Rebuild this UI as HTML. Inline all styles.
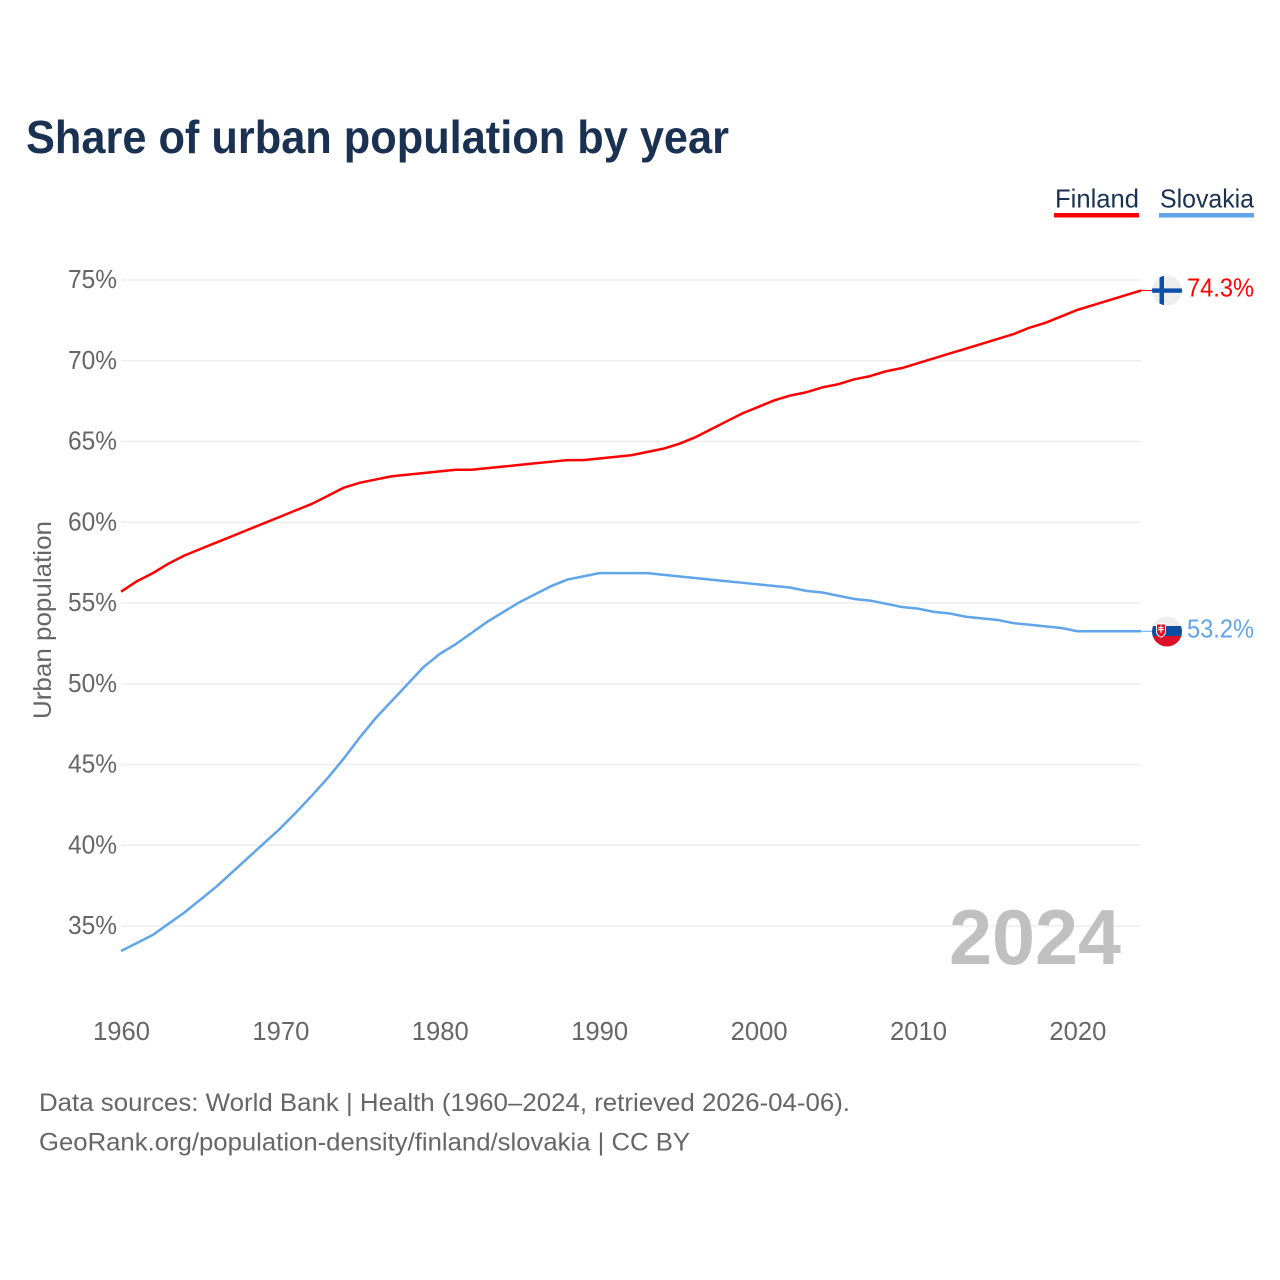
<!DOCTYPE html>
<html lang="en">
<head>
<meta charset="utf-8">
<title>Share of urban population by year</title>
<style>
html,body{margin:0;padding:0;background:#fff;width:1280px;height:1280px;overflow:hidden}
svg{display:block}
text{font-family:"Liberation Sans",sans-serif}
</style>
</head>
<body>
<svg id="chart" xmlns="http://www.w3.org/2000/svg" width="1280" height="1280" viewBox="0 0 1280 1280">
  <text x="26" y="153" font-size="46" font-weight="700" fill="#1a3152" textLength="703" lengthAdjust="spacingAndGlyphs">Share of urban population by year</text>

  <g>
    <text x="1055" y="207.500" font-size="26" fill="#1a3152" textLength="84" lengthAdjust="spacingAndGlyphs">Finland</text>
    <rect x="1054" y="213" width="85" height="4.5" fill="#ff0000"/>
  </g>
  <g>
    <text x="1160" y="207.500" font-size="26" fill="#1a3152" textLength="94" lengthAdjust="spacingAndGlyphs">Slovakia</text>
    <rect x="1159" y="213" width="95" height="4.5" fill="#60a5ea"/>
  </g>

  <g id="grid"></g>
  <g id="yTicks"></g>
  <g id="xTicks"></g>
  <text transform="translate(51,620) rotate(-90)" text-anchor="middle" font-size="25" fill="#666666" textLength="198" lengthAdjust="spacingAndGlyphs">Urban population</text>

  <text x="949" y="964" font-size="78" font-weight="700" fill="#c0c0c0" textLength="172" lengthAdjust="spacingAndGlyphs">2024</text>

  <g id="series"></g>

  <g id="flagFinland">
    <clipPath id="clipFi"><circle cx="1167" cy="290.5" r="15"/></clipPath>
    <g clip-path="url(#clipFi)">
      <rect x="1152" y="275" width="30" height="31" fill="#eeeeee"/>
      <rect x="1159.5" y="275" width="4.5" height="31" fill="#0a4fa8"/>
      <rect x="1152" y="288.4" width="30" height="4.4" fill="#0a4fa8"/>
    </g>
  </g>
  <g id="flagSlovakia">
    <clipPath id="clipSk"><circle cx="1167" cy="631.5" r="15"/></clipPath>
    <g clip-path="url(#clipSk)">
      <rect x="1152" y="616" width="30" height="10.5" fill="#eeeeee"/>
      <rect x="1152" y="626" width="30" height="10.5" fill="#0b4ea2"/>
      <rect x="1152" y="636" width="30" height="11" fill="#dc1128"/>
    </g>
    <path d="M1156.5 624h9v7.5c0 3-2 4.700-4.500 5.800c-2.500-1.100-4.500-2.800-4.500-5.800z" fill="#dc1128" stroke="#ffffff" stroke-width="1"/>
    <path d="M1160.400 625.500h1.200v1.500h1.900v1.100h-1.900v1h2.300v1.100h-2.300v2.500h-1.200v-2.500h-2.300v-1.100h2.300v-1h-1.900v-1.100h1.900z" fill="#ffffff"/>
  </g>

  <text x="1187" y="296.500" font-size="26" fill="#ff0000" textLength="67" lengthAdjust="spacingAndGlyphs">74.3%</text>
  <text x="1187" y="637.500" font-size="26" fill="#60a5ea" textLength="67" lengthAdjust="spacingAndGlyphs">53.2%</text>

  <text x="39" y="1111" font-size="25" fill="#666666" textLength="811" lengthAdjust="spacingAndGlyphs">Data sources: World Bank | Health (1960–2024, retrieved 2026-04-06).</text>
  <text x="39" y="1150.500" font-size="25" fill="#666666" textLength="651" lengthAdjust="spacingAndGlyphs">GeoRank.org/population-density/finland/slovakia | CC BY</text>
</svg>
<script>
const startYear = 1960;
const finlandValues = [55.7,56.35,56.85,57.45,57.95,58.35,58.75,59.15,59.55,59.95,60.35,60.75,61.15,61.65,62.15,62.45,62.65,62.85,62.95,63.05,63.15,63.25,63.25,63.35,63.45,63.55,63.65,63.75,63.85,63.85,63.95,64.05,64.15,64.35,64.55,64.85,65.25,65.75,66.25,66.75,67.15,67.55,67.85,68.05,68.35,68.55,68.85,69.05,69.35,69.55,69.85,70.15,70.45,70.75,71.05,71.35,71.65,72.05,72.35,72.75,73.15,73.45,73.75,74.05,74.35];
const slovakiaValues = [33.45,33.95,34.45,35.15,35.85,36.65,37.45,38.35,39.25,40.15,41.05,42.05,43.1,44.2,45.4,46.7,47.9,48.95,50.0,51.05,51.85,52.45,53.15,53.85,54.45,55.05,55.55,56.05,56.45,56.65,56.85,56.85,56.85,56.85,56.75,56.65,56.55,56.45,56.35,56.25,56.15,56.05,55.95,55.75,55.65,55.45,55.25,55.15,54.95,54.75,54.65,54.45,54.35,54.15,54.05,53.95,53.75,53.65,53.55,53.45,53.25,53.25,53.25,53.25,53.25];
const yTickValues = [35,40,45,50,55,60,65,70,75];
const xTickYears = [1960,1970,1980,1990,2000,2010,2020];

const SVG_NS = 'http://www.w3.org/2000/svg';
function xScale(year){ return 121 + (year - 1960) * 15.94; }
function yScale(v){ return 280 + (75 - v) * 16.15; }

const gridGroup = document.getElementById('grid');
const yGroup = document.getElementById('yTicks');
const xGroup = document.getElementById('xTicks');
const seriesGroup = document.getElementById('series');

yTickValues.forEach(function(v){
  const line = document.createElementNS(SVG_NS, 'line');
  
  
  line.setAttribute('x1', 121);
  line.setAttribute('x2', 1141);
  line.setAttribute('y1', yScale(v));
  line.setAttribute('y2', yScale(v));
  line.setAttribute('stroke', '#eeeeee');
  line.setAttribute('stroke-width', 1.5);
  gridGroup.appendChild(line);

  const label = document.createElementNS(SVG_NS, 'text');
  
  
  label.setAttribute('x', 68);
  label.setAttribute('y', yScale(v) + 8);
  label.setAttribute('font-size', 26);
  label.setAttribute('fill', '#666666');
  label.setAttribute('textLength', 49);
  label.setAttribute('lengthAdjust', 'spacingAndGlyphs');
  label.textContent = v + '%';
  yGroup.appendChild(label);
});

xTickYears.forEach(function(year){
  const label = document.createElementNS(SVG_NS, 'text');
  
  
  label.setAttribute('x', xScale(year) - 28);
  label.setAttribute('y', 1040);
  label.setAttribute('font-size', 26);
  label.setAttribute('fill', '#666666');
  label.setAttribute('textLength', 57);
  label.setAttribute('lengthAdjust', 'spacingAndGlyphs');
  label.textContent = year;
  xGroup.appendChild(label);
});

function drawSeries(values, color, name){
  const pts = values.map(function(v, i){
    return xScale(startYear + i).toFixed(2) + ',' + yScale(v).toFixed(2);
  });
  const path = document.createElementNS(SVG_NS, 'polyline');
  
  
  path.setAttribute('points', pts.join(' '));
  path.setAttribute('fill', 'none');
  path.setAttribute('stroke', color);
  path.setAttribute('stroke-width', 2.5);
  path.setAttribute('stroke-linejoin', 'round');
  seriesGroup.appendChild(path);

  const lastValue = values[values.length - 1];
  const lead = document.createElementNS(SVG_NS, 'line');
  
  
  lead.setAttribute('x1', xScale(startYear + values.length - 1));
  lead.setAttribute('x2', 1152);
  lead.setAttribute('y1', yScale(lastValue));
  lead.setAttribute('y2', yScale(lastValue));
  lead.setAttribute('stroke', color);
  lead.setAttribute('stroke-width', 1);
  seriesGroup.appendChild(lead);
}
drawSeries(finlandValues, '#ff0000', 'finland-line');
drawSeries(slovakiaValues, '#60a5ea', 'slovakia-line');
</script>
</body>
</html>
